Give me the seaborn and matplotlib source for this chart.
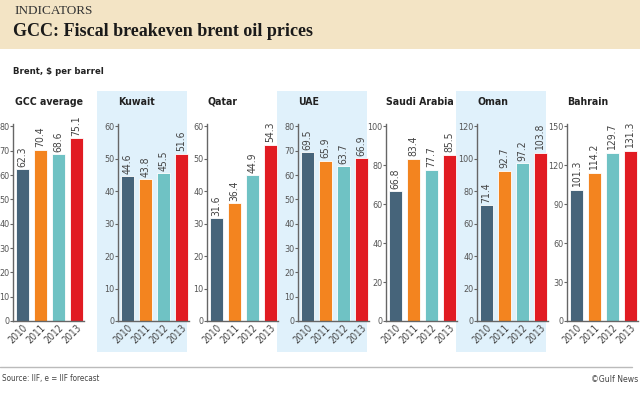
import matplotlib
matplotlib.use("Agg")
import matplotlib.pyplot as plt
import seaborn as sns
import pandas as pd
from matplotlib.patches import Rectangle
from matplotlib.lines import Line2D
from matplotlib import font_manager as fm

sns.set_theme(style="white")

names = {f.name for f in fm.fontManager.ttflist}
cond_dv = [f for f in fm.fontManager.ttflist if f.name == "DejaVu Sans" and "ondensed" in f.fname]
if "Liberation Sans Narrow" in names:
    plt.rcParams['font.family'] = ["Liberation Sans Narrow", "DejaVu Sans"]
elif cond_dv:
    plt.rcParams['font.family'] = ["DejaVu Sans"]
    plt.rcParams['font.stretch'] = "condensed"
else:
    plt.rcParams['font.family'] = ["Liberation Sans", "DejaVu Sans"]

years = ["2010", "2011", "2012", "2013"]
countries = ["GCC average", "Kuwait", "Qatar", "UAE", "Saudi Arabia", "Oman", "Bahrain"]
gcc = [62.3, 70.4, 68.6, 75.1]
kuwait = [44.6, 43.8, 45.5, 51.6]
qatar = [31.6, 36.4, 44.9, 54.3]
uae = [69.5, 65.9, 63.7, 66.9]
saudi = [66.8, 83.4, 77.7, 85.5]
oman = [71.4, 92.7, 97.2, 103.8]
bahrain = [101.3, 114.2, 129.7, 131.3]
series = [gcc, kuwait, qatar, uae, saudi, oman, bahrain]
ymax = [80, 60, 60, 80, 100, 120, 150]
ystep = [10, 10, 10, 10, 20, 20, 30]
shaded = [False, True, False, True, False, True, False]
colors = ["#46647a", "#f3841f", "#6fc2c4", "#e11b22"]

W, H = 640, 393
fig = plt.figure(figsize=(W / 100, H / 100), dpi=100)
fig.patch.set_facecolor("white")

# header band
fig.patches.append(Rectangle((0, 1 - 49 / H), 1, 49 / H, transform=fig.transFigure,
                             facecolor="#f3e4c5", edgecolor="none", zorder=-5))
fig.text(14 / W, 1 - 11 / H, "INDICATORS",
         family=["Liberation Serif", "DejaVu Serif"],
         fontsize=9.5, color="#333333", va="center", ha="left")
fig.text(13 / W, 1 - 32 / H, "GCC: Fiscal breakeven brent oil prices",
         family=["Liberation Serif", "DejaVu Serif"], fontsize=13, fontweight="bold",
         color="#1a1a1a", va="center", ha="left")
fig.text(13 / W, 1 - 72 / H, "Brent, $ per barrel", fontsize=6.8, fontweight="bold",
         color="#222222", va="center", ha="left")

spines_x = [13, 118, 207, 298, 386, 477, 567]
bg_x = [None, 97, None, 277, None, 456, None]
y0_px, ytop_px = 321, 124
axw_px = 71

for i, (name, vals) in enumerate(zip(countries, series)):
    if shaded[i]:
        fig.patches.append(Rectangle((bg_x[i] / W, 1 - 352 / H), 90 / W, (352 - 91) / H,
                                     transform=fig.transFigure, facecolor="#e0f1fb",
                                     edgecolor="none", zorder=-5))
    ax = fig.add_axes([spines_x[i] / W, 1 - y0_px / H, axw_px / W, (y0_px - ytop_px) / H])
    ax.set_zorder(2)
    ax.patch.set_alpha(0)
    df = pd.DataFrame({"year": years, "value": vals})
    sns.barplot(data=df, x="year", y="value", hue="year", palette=colors, legend=False,
                width=0.76, ax=ax, edgecolor="white", linewidth=0.6, saturation=1)
    ax.set_xlim(-0.53, 3.42)
    ax.set_ylim(0, ymax[i] * 1.012)
    ax.set_yticks(range(0, ymax[i] + 1, ystep[i]))
    ax.set_xlabel("")
    ax.set_ylabel("")
    for s in ["top", "right"]:
        ax.spines[s].set_visible(False)
    for s in ["left", "bottom"]:
        ax.spines[s].set_color("#666666")
        ax.spines[s].set_linewidth(1.0)
    ax.tick_params(axis="y", length=2, width=0.8, color="#666666", pad=0.5,
                   labelsize=6.5, labelcolor="#555555", left=True)
    ax.tick_params(axis="x", length=0, pad=1, labelsize=7, labelcolor="#444444")
    for lab in ax.get_xticklabels():
        lab.set_rotation(45)
        lab.set_ha("right")
        lab.set_rotation_mode("anchor")
    for j, v in enumerate(vals):
        ax.text(j, v + ymax[i] * 0.012, f"{v:.1f}", rotation=90, ha="center", va="bottom",
                fontsize=7.5, color="#444444")
    fig.text(spines_x[i] / W + (2 / W if i == 0 else 0), 1 - 102 / H, name, fontsize=7.6,
             fontweight="bold", color="#222222", va="center", ha="left")

fig.lines.append(Line2D([0, 632 / W], [1 - 367 / H, 1 - 367 / H], transform=fig.transFigure,
                        color="#bbbbbb", linewidth=1))
fig.text(2 / W, 1 - 379 / H, "Source: IIF, e = IIF forecast", fontsize=5.8, color="#444444",
         va="center", ha="left")
fig.text(638 / W, 1 - 379 / H, "\u00a9Gulf News", fontsize=6.2, color="#444444",
         va="center", ha="right")

fig.savefig("out.png", dpi=100)
